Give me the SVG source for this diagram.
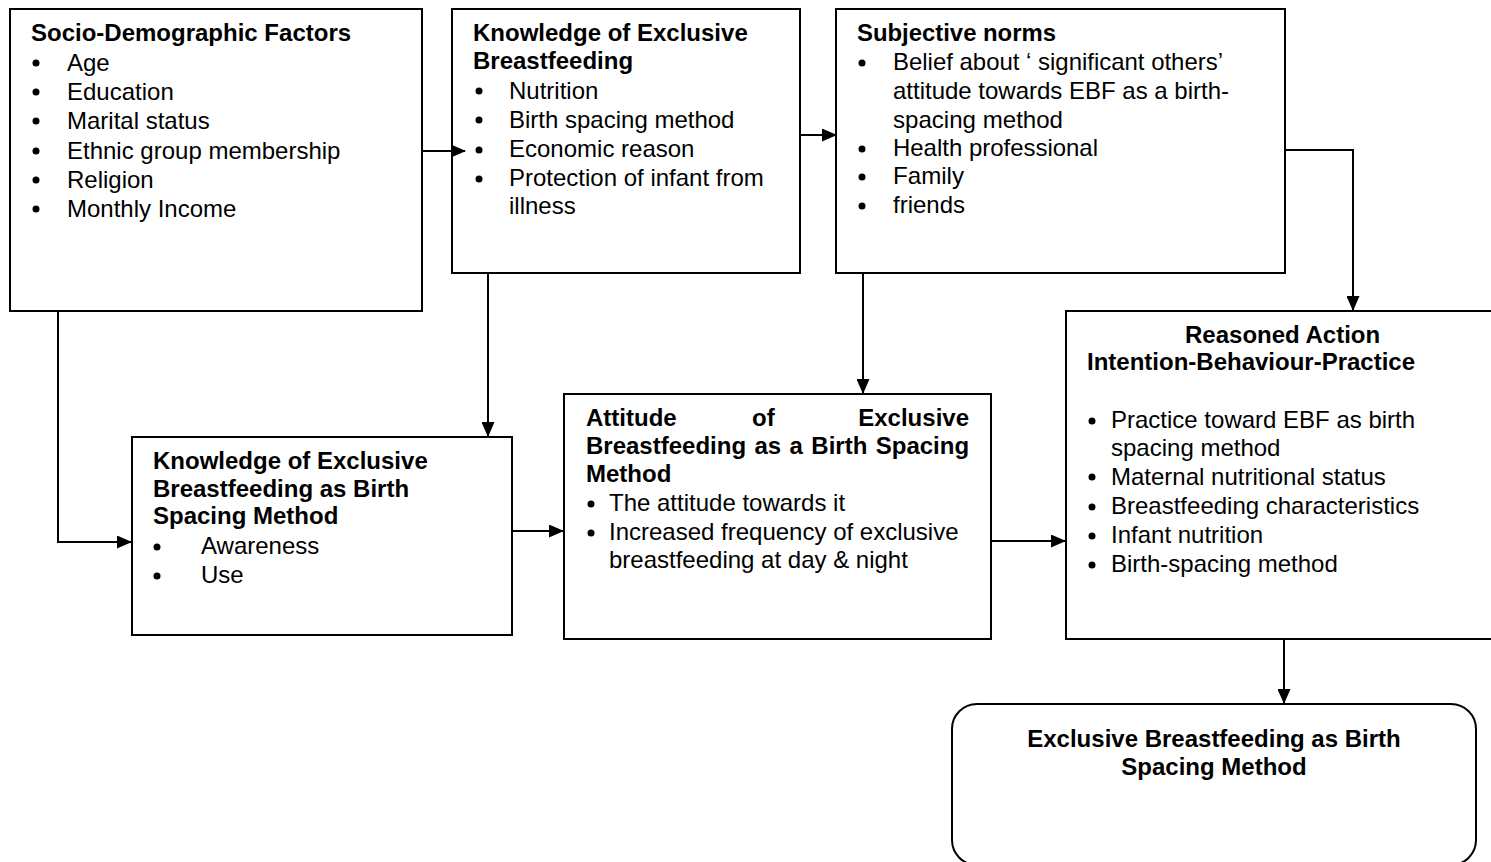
<svg xmlns="http://www.w3.org/2000/svg" width="1491" height="862" viewBox="0 0 1491 862">
<style>
.box{fill:#fff;stroke:#000;stroke-width:2}
.t{font-family:"Liberation Sans",Arial,sans-serif;font-size:24px;fill:#000}
.b{font-weight:bold}
.c{stroke:#000;stroke-width:2;fill:none}
.dot{fill:#000}
</style>
<defs>
<marker id="ah" markerWidth="15" markerHeight="13" refX="14" refY="6.5" orient="auto" markerUnits="userSpaceOnUse">
<path d="M0,0 L15,6.5 L0,13 Z" fill="#000"/>
</marker>
</defs>

<g id="socio">
<rect class="box" x="10" y="9" width="412" height="302"/>
<text class="t b" x="31" y="41">Socio-Demographic Factors</text>
<circle class="dot" cx="36" cy="63" r="3.5"/>
<circle class="dot" cx="36" cy="92" r="3.5"/>
<circle class="dot" cx="36" cy="121" r="3.5"/>
<circle class="dot" cx="36" cy="151" r="3.5"/>
<circle class="dot" cx="36" cy="180" r="3.5"/>
<circle class="dot" cx="36" cy="209" r="3.5"/>
<text class="t" x="67" y="71">Age</text>
<text class="t" x="67" y="100">Education</text>
<text class="t" x="67" y="129">Marital status</text>
<text class="t" x="67" y="159">Ethnic group membership</text>
<text class="t" x="67" y="188">Religion</text>
<text class="t" x="67" y="217">Monthly Income</text>
</g>

<g id="knowledge-ebf">
<rect class="box" x="452" y="9" width="348" height="264"/>
<text class="t b" x="473" y="41">Knowledge of Exclusive</text>
<text class="t b" x="473" y="69">Breastfeeding</text>
<circle class="dot" cx="479" cy="91" r="3.5"/>
<circle class="dot" cx="479" cy="120" r="3.5"/>
<circle class="dot" cx="479" cy="150" r="3.5"/>
<circle class="dot" cx="479" cy="179" r="3.5"/>
<text class="t" x="509" y="99">Nutrition</text>
<text class="t" x="509" y="128">Birth spacing method</text>
<text class="t" x="509" y="157">Economic reason</text>
<text class="t" x="509" y="186">Protection of infant from</text>
<text class="t" x="509" y="214">illness</text>
</g>

<g id="subjective-norms">
<rect class="box" x="836" y="9" width="449" height="264"/>
<text class="t b" x="857" y="41" textLength="199" lengthAdjust="spacingAndGlyphs">Subjective norms</text>
<circle class="dot" cx="862" cy="63" r="3.5"/>
<circle class="dot" cx="862" cy="149" r="3.5"/>
<circle class="dot" cx="862" cy="177" r="3.5"/>
<circle class="dot" cx="862" cy="206" r="3.5"/>
<text class="t" x="893" y="70" textLength="330" lengthAdjust="spacingAndGlyphs">Belief about ‘ significant others’</text>
<text class="t" x="893" y="99" textLength="336" lengthAdjust="spacingAndGlyphs">attitude towards EBF as a birth-</text>
<text class="t" x="893" y="128" textLength="170" lengthAdjust="spacingAndGlyphs">spacing method</text>
<text class="t" x="893" y="156" textLength="205" lengthAdjust="spacingAndGlyphs">Health professional</text>
<text class="t" x="893" y="184" textLength="71" lengthAdjust="spacingAndGlyphs">Family</text>
<text class="t" x="893" y="213" textLength="72" lengthAdjust="spacingAndGlyphs">friends</text>
</g>

<g id="reasoned-action">
<rect class="box" x="1066" y="311" width="440" height="328"/>
<text class="t b" x="1185" y="343">Reasoned Action</text>
<text class="t b" x="1087" y="370">Intention-Behaviour-Practice</text>
<circle class="dot" cx="1092" cy="421" r="3.5"/>
<circle class="dot" cx="1092" cy="477" r="3.5"/>
<circle class="dot" cx="1092" cy="507" r="3.5"/>
<circle class="dot" cx="1092" cy="536" r="3.5"/>
<circle class="dot" cx="1092" cy="565" r="3.5"/>
<text class="t" x="1111" y="428">Practice toward EBF as birth</text>
<text class="t" x="1111" y="456">spacing method</text>
<text class="t" x="1111" y="485">Maternal nutritional status</text>
<text class="t" x="1111" y="514">Breastfeeding characteristics</text>
<text class="t" x="1111" y="543">Infant nutrition</text>
<text class="t" x="1111" y="572">Birth-spacing method</text>
</g>

<g id="knowledge-birth-spacing">
<rect class="box" x="132" y="437" width="380" height="198"/>
<text class="t b" x="153" y="469">Knowledge of Exclusive</text>
<text class="t b" x="153" y="497">Breastfeeding as Birth</text>
<text class="t b" x="153" y="524">Spacing Method</text>
<circle class="dot" cx="157" cy="547" r="3.5"/>
<circle class="dot" cx="157" cy="576" r="3.5"/>
<text class="t" x="201" y="554">Awareness</text>
<text class="t" x="201" y="583">Use</text>
</g>

<g id="attitude">
<rect class="box" x="564" y="394" width="427" height="245"/>
<text class="t b" x="586" y="426">Attitude</text>
<text class="t b" x="752" y="426">of</text>
<text class="t b" x="969" y="426" text-anchor="end">Exclusive</text>
<text class="t b" x="586" y="454" word-spacing="1.75">Breastfeeding as a Birth Spacing</text>
<text class="t b" x="586" y="482">Method</text>
<circle class="dot" cx="591" cy="504" r="3.5"/>
<circle class="dot" cx="591" cy="533" r="3.5"/>
<text class="t" x="609" y="511">The attitude towards it</text>
<text class="t" x="609" y="540">Increased frequency of exclusive</text>
<text class="t" x="609" y="568">breastfeeding at day &amp; night</text>
</g>

<g id="ebf-outcome">
<rect class="box" x="952" y="704" width="524" height="161" rx="25" ry="25"/>
<text class="t b" x="1214" y="747" text-anchor="middle">Exclusive Breastfeeding as Birth</text>
<text class="t b" x="1214" y="775" text-anchor="middle">Spacing Method</text>
</g>

<g id="connectors">
<path class="c" d="M422,151 L465,151" marker-end="url(#ah)"/>
<path class="c" d="M800,135 L836,135" marker-end="url(#ah)"/>
<path class="c" d="M1285,150 L1353,150 L1353,310" marker-end="url(#ah)"/>
<path class="c" d="M488,273 L488,436" marker-end="url(#ah)"/>
<path class="c" d="M863,273 L863,393" marker-end="url(#ah)"/>
<path class="c" d="M58,311 L58,542 L131,542" marker-end="url(#ah)"/>
<path class="c" d="M512,531 L563,531" marker-end="url(#ah)"/>
<path class="c" d="M991,541 L1065,541" marker-end="url(#ah)"/>
<path class="c" d="M1284,639 L1284,703" marker-end="url(#ah)"/>
</g>
</svg>
